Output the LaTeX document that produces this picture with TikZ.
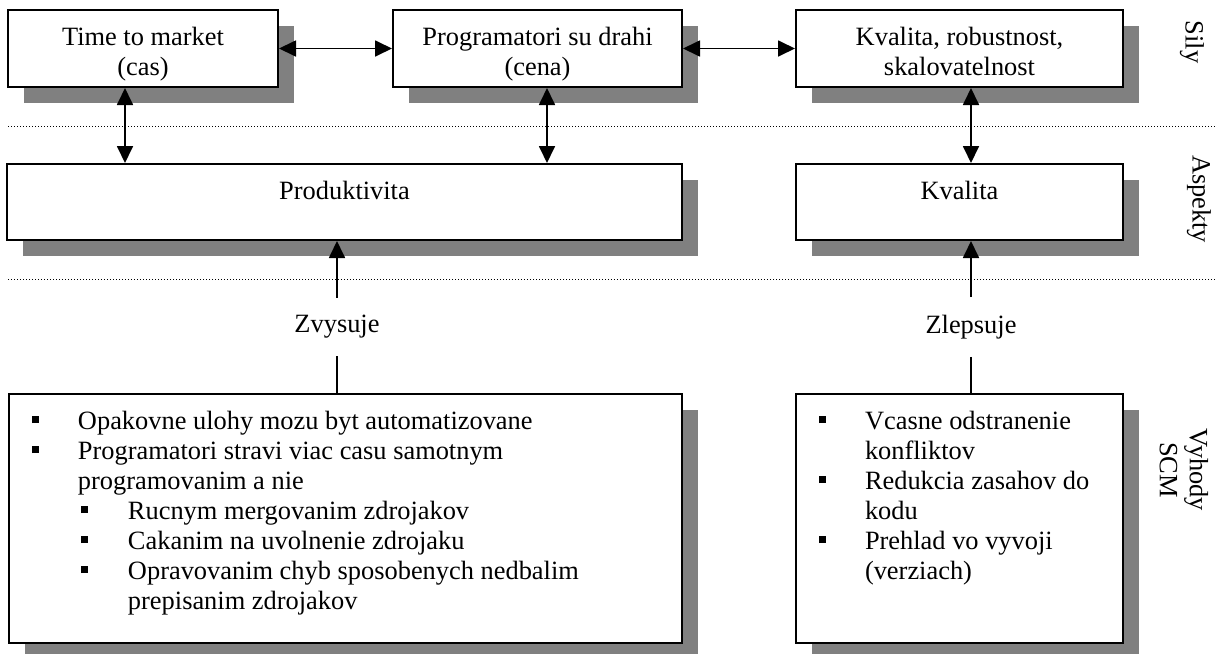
\documentclass[tikz,border=0pt]{standalone}
\usepackage{fontspec}
\setmainfont{Liberation Serif}
\usetikzlibrary{arrows.meta,shadows}

\newcommand\sqbullet{\rule[3pt]{3.5pt}{3.5pt}}
\newcommand\boxtxt[3]{\parbox[c][#2][t]{#1}{\centering\vspace*{7pt}\strut#3}}
\newcommand\listtxt[3]{\parbox[c][#2][t]{#1}{\raggedright\vspace*{7pt}#3}}
\newcommand\itema[1]{\par\hangindent=34.5pt\hangafter=1\noindent\hbox to 34.5pt{\hspace*{11.5pt}\sqbullet\hfill}\strut#1}
\newcommand\itemb[1]{\par\hangindent=59.5pt\hangafter=1\noindent\hbox to 59.5pt{\hspace*{36pt}\sqbullet\hfill}\strut#1}

\begin{document}
\begin{tikzpicture}[x=0.5pt,y=-0.5pt,font=\fontsize{13.2}{15}\selectfont,
	shbox/.style={draw,line width=1pt,fill=white,inner sep=0pt,
		drop shadow={shadow xshift=8pt,shadow yshift=-8pt,fill=black!50,opacity=1}},
	arr/.style={line width=0.9pt},
	divline/.style={line width=0.5pt,dash pattern=on 0.5pt off 1pt},
	>={Triangle[length=8.5pt,width=8pt]}]
	\useasboundingbox (0,0) rectangle (1217,654);

	\draw[divline] (8,126) -- (1217,126);
	\draw[divline] (8,279) -- (1217,279);

	\node[rotate=-90] (sily) at (1192,42) {Sily};
	\node[rotate=-90] (aspekty) at (1199,199) {Aspekty};
	\node[rotate=-90,align=center] (vyhody) at (1184,470) {Vyhody\\SCM};

	% sily
	\node[shbox] (cas) at (143,48.5) {\boxtxt{135pt}{38.5pt}{Time to market\\(cas)}};
	\node[shbox] (cena) at (537.5,48.5) {\boxtxt{144.5pt}{38.5pt}{Programatori su drahi\\(cena)}};
	\node[shbox] (kvalrob) at (959.5,48.5) {\boxtxt{163.5pt}{38.5pt}{Kvalita, robustnost,\\skalovatelnost}};

	% aspekty
	\node[shbox] (prod) at (344.5,202) {\boxtxt{337.5pt}{38pt}{Produktivita}};
	\node[shbox] (kval) at (959.5,202) {\boxtxt{163.5pt}{38pt}{Kvalita}};

	\node[inner ysep=8.7pt] (zvys) at (337,327) {Zvysuje};
	\node[inner ysep=8.7pt] (zlep) at (971,327) {Zlepsuje};

	% vyhody
	\node[shbox] (vyh1) at (345.5,518.5) {\listtxt{336.5pt}{124.5pt}{%
		\itema{Opakovne ulohy mozu byt automatizovane}
		\itema{Programatori stravi viac casu samotnym\newline programovanim a nie}
		\itemb{Rucnym mergovanim zdrojakov}
		\itemb{Cakanim na uvolnenie zdrojaku}
		\itemb{Opravovanim chyb sposobenych nedbalim\newline prepisanim zdrojakov}}};
	\node[shbox] (vyh2) at (959.5,518.5) {\listtxt{163.5pt}{124.5pt}{%
		\itema{Vcasne odstranenie\newline konfliktov}
		\itema{Redukcia zasahov do\newline kodu}
		\itema{Prehlad vo vyvoji\newline (verziach)}}};

	\draw[arr,<->] (cas.east) -- (cena.west);
	\draw[arr,<->] (cena.east) -- (kvalrob.west);
	\draw[arr,<->] ([xshift=-9pt]cas.south) -- ([xshift=-9pt]cas.south |- prod.north);
	\draw[arr,<->] ([xshift=4.75pt]cena.south) -- ([xshift=4.75pt]cena.south |- prod.north);
	\draw[arr,<->] (kvalrob.south -| zlep.north) -- (kval.north -| zlep.north);
	\draw[arr,->] (zvys.north) -- (zvys.north |- prod.south);
	\draw[arr,->] (zlep.north) -- (zlep.north |- kval.south);
	\draw[arr] (zvys.south) -- (zvys.south |- vyh1.north);
	\draw[arr] (zlep.south) -- (zlep.south |- vyh2.north);
\end{tikzpicture}
\end{document}
